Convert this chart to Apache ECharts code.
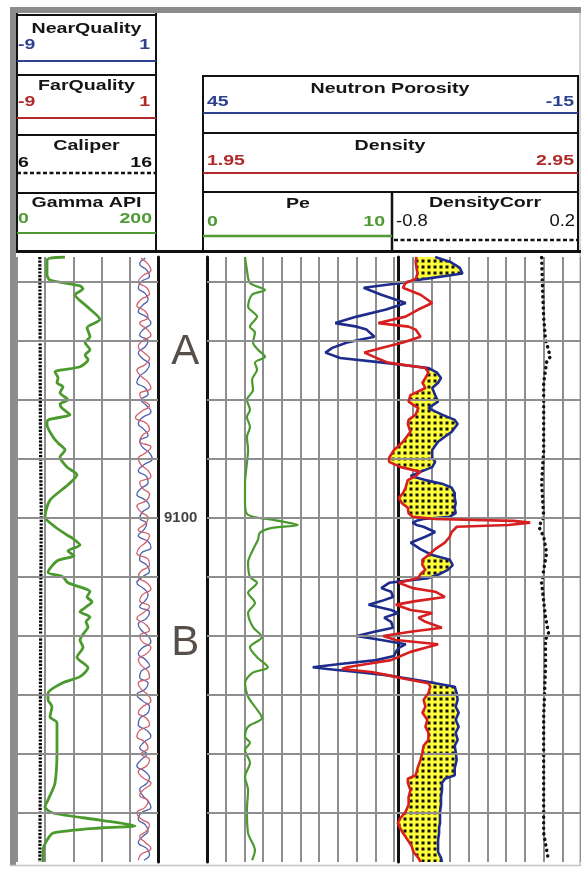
<!DOCTYPE html>
<html><head><meta charset="utf-8">
<script src="https://cdn.jsdelivr.net/npm/echarts@6/dist/echarts.min.js"></script>
<style>html,body{margin:0;padding:0;background:#fff}#c{width:581px;height:871px}</style>
</head><body><div id="c"></div>
<script>
// ---------------- DATA ----------------
const depthMin = 9055.8, depthMax = 9158.3;
const gridDepths = [9060, 9070, 9080, 9090, 9100, 9110, 9120, 9130, 9140, 9150];

const gammaDepth = [9055.8, 9056.3, 9058.8, 9059.7, 9060.7, 9061.2, 9062.2, 9064.2, 9066.4, 9067.8,
  9069.3, 9070.3, 9071.5, 9072.4, 9073.2, 9074.4, 9075.3, 9076.3, 9077.1, 9077.8,
  9078.8, 9080.0, 9080.7, 9081.4, 9082.5, 9083.4, 9084.2, 9086.3, 9087.3, 9088.5,
  9089.7, 9091.4, 9092.7, 9094.4, 9097.0, 9099.8, 9101.5, 9102.9, 9103.4, 9104.6,
  9105.6, 9106.4, 9107.3, 9109.2, 9110.0, 9111.0, 9112.5, 9113.4, 9114.2, 9115.1,
  9115.9, 9116.8, 9117.6, 9118.5, 9119.5, 9120.7, 9121.9, 9123.6, 9125.4, 9126.9,
  9128.0, 9129.7, 9130.8, 9132.0, 9133.7, 9134.7, 9139.3, 9144.9, 9147.8, 9149.0,
  9150.0, 9151.2, 9152.2, 9152.5, 9153.4, 9154.6, 9156.3, 9158.3];
const gammaAPI = [68, 42.6, 42.6, 46.8, 89.4, 93.6, 82.3, 99.3, 117.7, 99.3,
  103.5, 96.5, 103.5, 96.5, 100.7, 89.4, 53.9, 58.2, 56.7, 65.2,
  61.0, 72.3, 61.0, 63.8, 75.2, 44.0, 42.6, 51.1, 58.2, 68.1,
  61.0, 70.9, 85.1, 72.3, 46.8, 39.7, 53.9, 70.9, 78.0, 89.4,
  72.3, 80.9, 56.7, 44.0, 65.2, 72.3, 103.5, 99.3, 106.4, 97.9,
  89.4, 103.5, 97.9, 100.7, 95.0, 89.4, 93.6, 85.1, 100.7, 89.4,
  63.8, 44.0, 44.0, 49.6, 46.8, 56.7, 56.7, 53.9, 44.0, 39.7,
  51.1, 117.7, 167.4, 122.0, 51.1, 42.6, 36.9, 36.9];

const caliperDepth = [9055.8, 9070, 9085, 9100, 9115, 9130, 9145, 9158.3];
const caliper = [7.62, 7.64, 7.66, 7.72, 7.68, 7.66, 7.65, 7.62];

const qualityDepth = [9056,9057,9058,9059,9060,9061,9062,9063,9064,9065,
  9066,9067,9068,9069,9070,9071,9072,9073,9074,9075,
  9076,9077,9078,9079,9080,9081,9082,9083,9084,9085,
  9086,9087,9088,9089,9090,9091,9092,9093,9094,9095,
  9096,9097,9098,9099,9100,9101,9102,9103,9104,9105,
  9106,9107,9108,9109,9110,9111,9112,9113,9114,9115,
  9116,9117,9118,9119,9120,9121,9122,9123,9124,9125,
  9126,9127,9128,9129,9130,9131,9132,9133,9134,9135,
  9136,9137,9138,9139,9140,9141,9142,9143,9144,9145,
  9146,9147,9148,9149,9150,9151,9152,9153,9154,9155,
  9156,9157,9158];
const nearQuality = [0.1,-0.3,0.2,0.4,-0.2,-0.4,0.1,0.3,-0.1,-0.4,
  0.2,0.5,0.0,-0.3,0.3,0.1,-0.4,-0.1,0.4,0.2,
  -0.3,-0.5,0.1,0.3,-0.2,0.2,0.5,-0.1,-0.4,0.0,
  0.3,-0.3,-0.1,0.4,0.6,0.0,-0.4,0.2,0.3,-0.2,
  -0.5,0.1,0.4,-0.1,-0.3,0.2,0.0,-0.4,0.3,0.5,
  -0.2,-0.3,0.2,0.4,-0.1,-0.5,0.0,0.3,0.1,-0.3,
  0.4,0.2,-0.4,-0.2,0.3,0.5,-0.1,-0.4,0.1,0.4,
  -0.2,-0.3,0.3,0.1,-0.5,-0.1,0.4,0.3,-0.3,-0.4,
  0.2,0.5,0.0,-0.3,0.2,-0.2,-0.5,0.1,0.4,0.2,
  -0.3,-0.1,0.3,0.5,-0.2,-0.4,0.1,0.3,-0.1,-0.4,
  0.2,0.4,0.0];
const farQuality = [-0.2,0.3,0.5,-0.1,-0.4,0.2,0.4,-0.2,-0.5,0.1,
  0.3,-0.3,0.2,0.5,-0.1,-0.4,0.0,0.4,0.1,-0.5,
  -0.2,0.3,0.5,-0.3,-0.1,0.4,-0.2,-0.6,0.2,0.4,
  -0.1,-0.3,0.5,0.1,-0.4,-0.2,0.3,0.5,-0.3,-0.1,
  0.4,0.2,-0.5,-0.2,0.3,0.1,-0.4,0.4,0.2,-0.3,
  -0.5,0.3,0.4,-0.2,-0.4,0.2,0.5,-0.1,-0.3,0.4,
  0.0,-0.5,0.1,0.4,-0.3,-0.1,0.5,0.2,-0.4,-0.2,
  0.3,0.4,-0.4,-0.2,0.3,0.5,-0.1,-0.4,0.2,0.4,
  -0.3,-0.5,0.1,0.3,-0.2,0.4,0.2,-0.4,-0.1,0.5,
  0.0,-0.3,0.3,0.1,-0.5,-0.2,0.4,0.2,-0.3,0.1,
  0.5,-0.2,-0.4];

const peDepth = [9055.8, 9058.0, 9060.2, 9061.4, 9062.2, 9064.2, 9065.9, 9067.6, 9068.6, 9070.3,
  9071.5, 9072.7, 9073.7, 9074.9, 9076.6, 9078.3, 9080.0, 9081.7, 9082.9, 9084.6,
  9086.3, 9088.5, 9090.7, 9094.1, 9097.5, 9099.5, 9100.3, 9101.2, 9101.7, 9102.5,
  9103.7, 9105.4, 9107.6, 9110.0, 9111.0, 9112.7, 9114.4, 9116.1, 9118.5, 9120.2,
  9121.9, 9123.6, 9125.3, 9126.3, 9128.0, 9130.3, 9132.0, 9133.9, 9135.4, 9137.1,
  9138.1, 9139.3, 9141.5, 9143.9, 9146.1, 9149.5, 9153.4, 9156.3, 9158.0];
const pe = [1.99,2.09,2.25,3.04,2.36,2.15,2.62,2.25,2.51,2.41,
  2.67,3.04,2.51,2.62,2.36,2.41,2.09,2.25,2.09,2.25,
  2.09,2.15,2.09,1.99,1.99,2.15,3.40,4.76,3.40,2.77,
  2.67,2.41,2.15,2.25,2.62,2.15,2.51,2.15,2.41,2.88,
  2.25,2.62,3.19,2.36,1.99,2.15,2.51,2.88,2.15,1.99,
  2.25,1.99,2.25,1.99,2.15,2.09,2.15,2.51,2.36];

const ndDepth = [9055.8, 9056.6, 9057.6, 9058.6, 9059.5, 9060.2, 9061.0, 9062.2, 9063.6, 9064.7,
  9065.9, 9067.0, 9067.6, 9068.1, 9069.3, 9070.3, 9071.2, 9072.0, 9072.9, 9073.7,
  9074.6, 9075.4, 9076.3, 9077.1, 9078.0, 9079.2, 9080.3, 9081.4, 9082.5, 9083.4,
  9084.1, 9085.4, 9087.1, 9088.5, 9089.8, 9090.5, 9091.4, 9092.2, 9092.9, 9093.6,
  9094.2, 9094.9, 9095.8, 9096.6, 9097.5, 9098.3, 9099.2, 9099.8, 9100.2, 9100.5,
  9100.8, 9101.2, 9101.5, 9102.4, 9103.2, 9104.2, 9105.3, 9106.3, 9107.1, 9108.0,
  9108.8, 9109.5, 9110.2, 9111.0, 9111.9, 9112.5, 9113.4, 9114.1, 9114.7, 9115.6,
  9116.1, 9116.9, 9117.6, 9118.6, 9119.3, 9120.0, 9120.7, 9121.4, 9122.0, 9122.7,
  9123.4, 9124.1, 9124.7, 9125.3, 9125.6, 9126.1, 9126.6, 9127.3, 9128.0, 9128.6,
  9129.7, 9130.8, 9132.0, 9133.0, 9134.2, 9135.4, 9136.4, 9137.6, 9138.6, 9139.7,
  9141.0, 9142.4, 9143.6, 9144.2, 9144.9, 9146.1, 9147.3, 9148.6, 9149.8, 9150.8,
  9151.7, 9152.5, 9153.4, 9154.6, 9155.6, 9156.6, 9157.6, 9158.3];
const density = [2.510, 2.508, 2.510, 2.513, 2.508, 2.481, 2.474, 2.521, 2.552, 2.515,
  2.481, 2.408, 2.489, 2.508, 2.521, 2.474, 2.416, 2.371, 2.403, 2.434,
  2.534, 2.542, 2.534, 2.526, 2.534, 2.494, 2.489, 2.515, 2.508, 2.489,
  2.487, 2.494, 2.474, 2.450, 2.437, 2.437, 2.468, 2.521, 2.508, 2.487,
  2.484, 2.481, 2.474, 2.463, 2.471, 2.487, 2.489, 2.500, 2.560, 2.769,
  2.814, 2.756, 2.618, 2.604, 2.599, 2.586, 2.560, 2.542, 2.526, 2.526,
  2.534, 2.521, 2.515, 2.463, 2.500, 2.560, 2.586, 2.508, 2.455, 2.494,
  2.552, 2.515, 2.534, 2.578, 2.494, 2.421, 2.455, 2.568, 2.534, 2.494,
  2.468, 2.442, 2.382, 2.324, 2.311, 2.390, 2.429, 2.481, 2.542, 2.547,
  2.542, 2.529, 2.534, 2.526, 2.539, 2.534, 2.542, 2.542, 2.529, 2.526,
  2.521, 2.513, 2.508, 2.487, 2.487, 2.494, 2.489, 2.489, 2.481, 2.468,
  2.460, 2.466, 2.474, 2.487, 2.497, 2.502, 2.515, 2.521];
const neutron = [8.4, 6.05, 4.48, 4.01, 9.97, 13.9, 19.87, 17.04, 13.11, 16.26,
  20.97, 24.42, 20.97, 19.4, 18.14, 22.54, 24.9, 26.0, 23.64, 16.73,
  9.5, 8.09, 7.46, 7.93, 8.87, 8.4, 7.93, 9.5, 7.3, 5.26,
  4.79, 5.73, 7.93, 8.87, 8.87, 8.4, 8.87, 10.76, 12.33, 9.97,
  7.3, 5.73, 5.26, 5.26, 5.1, 5.26, 5.1, 6.05, 10.29, 11.39,
  12.02, 11.39, 10.29, 8.4, 9.97, 12.33, 10.76, 8.87, 6.05, 5.58,
  6.36, 7.62, 9.5, 15.78, 17.04, 15.47, 15.16, 17.04, 19.08, 15.47,
  14.37, 16.57, 15.47, 15.16, 18.14, 20.97, 17.04, 13.11, 14.21, 14.69,
  15.0, 17.83, 23.32, 28.04, 25.68, 20.97, 16.57, 12.33, 8.4, 5.26,
  4.95, 4.79, 5.1, 4.63, 5.1, 4.63, 5.1, 4.79, 5.26, 5.1,
  4.95, 5.26, 5.26, 6.83, 7.3, 7.3, 7.46, 7.46, 7.62, 7.62,
  7.62, 7.77, 7.77, 7.93, 7.93, 7.93, 7.46, 7.3];

const dcDepth = [9055.9, 9061.4, 9065.9, 9069.8, 9071.5, 9072.7, 9073.6, 9077.1, 9088.5, 9094.1,
  9099.8, 9101.5, 9103.2, 9105.9, 9111.0, 9116.8, 9119.5, 9120.7, 9125.3, 9133.7,
  9144.9, 9153.4, 9158.0];
const densityCorr = [-0.015, -0.010, -0.004, 0.006, 0.022, 0.032, 0.012, -0.004, -0.004, -0.015,
  -0.004, -0.030, -0.004, 0.012, -0.015, 0.006, 0.022, 0.006, 0.006, -0.004,
  -0.004, -0.004, 0.022];

const zoneLabels = ['A', 'B'];
const zoneDepths = [9071.9, 9121.2];
const depthTickLabels = ['9100'];
const depthTickValues = [9100];

// ---------------- RENDER ----------------
const C_NAVY = '#1e2c8c', C_RED = '#d81f1f', C_GREEN = '#4b9a2d', C_GRID = '#8e8e8e', K = '#111';
const HN = '#2d4190', HR = '#b02a2a', HG = '#4f9a35';

function pairs(vals, deps) { return deps.map((d, i) => [vals[i], d]); }
// neutron scale (45 .. -15) expressed on the density scale (1.95 .. 2.95) of the same track
function neutronOnDensityScale(n) { return 1.95 + (45 - n) / 60; }

const pc = document.createElement('canvas');
pc.width = 6; pc.height = 6;
const pctx = pc.getContext('2d');
pctx.fillStyle = '#ffff3a'; pctx.fillRect(0, 0, 6, 6);
pctx.fillStyle = '#111'; pctx.fillRect(1.5, 1.5, 3, 3);
const fillPattern = { image: pc, repeat: 'repeat' };

function renderFill(params, api) {
  const pts = ndDepth.map((d, i) => {
    const r = api.coord([density[i], d]);
    const b = api.coord([neutronOnDensityScale(neutron[i]), d]);
    return { y: r[1], r: r[0], b: b[0] };
  });
  const polys = [];
  let left = [], right = [];
  for (let i = 0; i < pts.length; i++) {
    const p = pts[i], inside = p.r < p.b;
    if (i > 0) {
      const q = pts[i - 1], was = q.r < q.b;
      if (inside !== was) {
        const d0 = q.b - q.r, d1 = p.b - p.r, t = d0 / (d0 - d1);
        const cx = q.r + t * (p.r - q.r), cy = q.y + t * (p.y - q.y);
        left.push([cx, cy]);
        if (was) { polys.push(left.concat(right.reverse())); left = []; right = []; }
      }
    }
    if (inside) { left.push([p.r, p.y]); right.push([p.b, p.y]); }
  }
  if (left.length) polys.push(left.concat(right.reverse()));
  return { type: 'group', children: polys.map(pp => ({
    type: 'polygon', shape: { points: pp }, style: { fill: fillPattern, stroke: null } })) };
}

const TOP = 257, HGT = 605;
const hidden = { show: false };
function yAx(grid, opts) {
  return Object.assign({ type: 'value', gridIndex: grid, inverse: true, min: depthMin, max: depthMax,
    axisLabel: hidden, axisTick: hidden, splitLine: hidden, axisLine: hidden }, opts || {});
}
function xAx(grid, min, max, opts) {
  return Object.assign({ type: 'value', gridIndex: grid, min, max, axisLabel: hidden, axisTick: hidden,
    splitLine: hidden, axisLine: hidden }, opts || {});
}
const thickAxis = { show: true, onZero: false, lineStyle: { color: K, width: 3 } };
const splitStyle = { show: true, lineStyle: { color: C_GRID, width: 2 } };
const markGrid = { silent: true, symbol: 'none', label: { show: false },
  lineStyle: { color: C_GRID, width: 2, type: 'solid' }, emphasis: { disabled: true },
  data: gridDepths.map(d => ({ yAxis: d })) };

// header graphics
function hl(x1, x2, y, c, w, dash) { return { type: 'line', silent: true, shape: { x1, y1: y, x2, y2: y }, style: { stroke: c, lineWidth: w, lineDash: dash || null } }; }
function vl(x, y1, y2, c, w) { return { type: 'line', silent: true, shape: { x1: x, y1, x2: x, y2 }, style: { stroke: c, lineWidth: w } }; }
function tx(x, y, text, o) {
  o = o || {};
  return { type: 'text', silent: true, x, y, scaleX: o.sx || 1.4,
    style: { text, x: 0, y: 0, textAlign: o.align || 'center', textVerticalAlign: 'middle', fill: o.color || '#151515',
      font: (o.weight || 'bold') + ' ' + (o.size || 14) + 'px "Liberation Sans", Arial, sans-serif' } };
}
const NUM = { size: 15, sx: 1.3 };
const graphics = [
  { type: 'rect', silent: true, shape: { x: 10, y: 7, width: 6, height: 858 }, style: { fill: '#8c8c8c' } },
  { type: 'rect', silent: true, shape: { x: 10, y: 7, width: 571, height: 6 }, style: { fill: '#8c8c8c' } },
  vl(580, 13, 866, '#c4c4c4', 1.5), hl(10, 581, 865.5, '#c4c4c4', 1.5),
  // track 1 header
  vl(17, 13, 252, K, 2), hl(16, 157, 15, K, 2), hl(16, 157, 75, K, 2), hl(16, 157, 135, K, 2), hl(16, 157, 193, K, 2),
  vl(156, 13, 252, K, 2),
  hl(17, 156, 61, HN, 2), hl(17, 156, 118, HR, 2), hl(17, 156, 173, K, 2.5, [4, 2.5]), hl(17, 156, 233, HG, 2),
  tx(86.5, 29, 'NearQuality'), tx(18, 44.5, '-9', Object.assign({ align: 'left', color: HN }, NUM)), tx(150, 44.5, '1', Object.assign({ align: 'right', color: HN }, NUM)),
  tx(86.5, 86, 'FarQuality'), tx(18, 102, '-9', Object.assign({ align: 'left', color: HR }, NUM)), tx(150, 102, '1', Object.assign({ align: 'right', color: HR }, NUM)),
  tx(86.5, 146, 'Caliper'), tx(18, 162.5, '6', Object.assign({ align: 'left', color: K }, NUM)), tx(152, 162.5, '16', Object.assign({ align: 'right', color: K }, NUM)),
  tx(86.5, 203, 'Gamma API'), tx(18, 219, '0', Object.assign({ align: 'left', color: HG }, NUM)), tx(152, 219, '200', Object.assign({ align: 'right', color: HG }, NUM)),
  // track 2 header
  hl(202, 579, 76, K, 2), hl(202, 579, 133, K, 2), hl(202, 579, 192, K, 2),
  vl(203, 76, 252, K, 2), vl(578, 76, 252, K, 2), vl(392, 192, 252, K, 2.5),
  hl(16, 581, 251.5, K, 3),
  hl(203, 578, 113, HN, 2), hl(203, 578, 173, HR, 2), hl(203, 392, 236, HG, 2.5), hl(394, 578, 240, K, 2.5, [4, 2.5]),
  tx(390, 89, 'Neutron Porosity'), tx(207, 102, '45', Object.assign({ align: 'left', color: HN }, NUM)), tx(574, 102, '-15', Object.assign({ align: 'right', color: HN }, NUM)),
  tx(390, 146, 'Density'), tx(207, 161, '1.95', Object.assign({ align: 'left', color: HR }, NUM)), tx(574, 161, '2.95', Object.assign({ align: 'right', color: HR }, NUM)),
  tx(298, 204, 'Pe'), tx(207, 222, '0', Object.assign({ align: 'left', color: HG }, NUM)), tx(385, 222, '10', Object.assign({ align: 'right', color: HG }, NUM)),
  tx(485, 203, 'DensityCorr'), tx(396, 222, '-0.8', { align: 'left', color: K, size: 16, weight: 'normal', sx: 1.15 }), tx(575, 222, '0.2', { align: 'right', color: K, size: 16, weight: 'normal', sx: 1.15 })
];

const chart = echarts.init(document.getElementById('c'), null, { renderer: 'canvas' });
chart.setOption({
  animation: false,
  backgroundColor: '#fff',
  grid: [
    { left: 17, top: TOP, width: 141, height: HGT },
    { left: 160, top: TOP, width: 46, height: HGT },
    { left: 207, top: TOP, width: 382, height: HGT },
    { left: 207, top: TOP, width: 191, height: HGT },
    { left: 398, top: TOP, width: 191, height: HGT }
  ],
  xAxis: [
    xAx(0, 0, 200, { interval: 40, splitLine: splitStyle }),
    xAx(0, 6, 16),
    xAx(0, -9, 1),
    xAx(1, 0, 1),
    xAx(2, 0, 20, { interval: 1, splitLine: splitStyle }),
    xAx(2, -15, 45, { inverse: true }),
    xAx(2, 1.95, 2.95),
    xAx(3, 0, 10),
    xAx(4, -0.8, 0.2)
  ],
  yAxis: [
    yAx(0, { position: 'right', axisLine: thickAxis }),
    yAx(1),
    yAx(2, { position: 'left', axisLine: thickAxis }),
    yAx(3, { position: 'right', axisLine: thickAxis }),
    yAx(4)
  ],
  graphic: { elements: graphics },
  series: [
    { type: 'line', xAxisIndex: 0, yAxisIndex: 0, data: [], z: 1, markLine: markGrid },
    { type: 'line', xAxisIndex: 4, yAxisIndex: 2, data: [], z: 1, markLine: markGrid },
    { name: 'Caliper', type: 'line', xAxisIndex: 1, yAxisIndex: 0, data: pairs(caliper, caliperDepth), showSymbol: false, z: 3,
      lineStyle: { color: '#000', width: 3.2, type: [2.2, 1.4] } },
    { name: 'NearQuality', type: 'line', xAxisIndex: 2, yAxisIndex: 0, data: pairs(nearQuality, qualityDepth), showSymbol: false, smooth: 0.5, z: 3,
      lineStyle: { color: '#4f62ad', width: 1.3 } },
    { name: 'FarQuality', type: 'line', xAxisIndex: 2, yAxisIndex: 0, data: pairs(farQuality, qualityDepth), showSymbol: false, smooth: 0.5, z: 3,
      lineStyle: { color: '#d0606a', width: 1.3 } },
    { name: 'Gamma API', type: 'line', xAxisIndex: 0, yAxisIndex: 0, data: pairs(gammaAPI, gammaDepth), showSymbol: false, smooth: 0.25, z: 4,
      lineStyle: { color: C_GREEN, width: 2.8 } },
    { type: 'scatter', xAxisIndex: 3, yAxisIndex: 1, symbolSize: 0, silent: true, z: 5,
      data: zoneLabels.map((t, i) => ({ value: [0.55, zoneDepths[i]], name: t }))
        .concat(depthTickLabels.map((t, i) => ({ value: [0.45, depthTickValues[i]], name: t,
          label: { fontSize: 15, fontWeight: 'bold', color: '#111' } }))),
      label: { show: true, position: 'inside', formatter: p => p.name, fontSize: 42, color: '#2e221c',
        fontFamily: '"Liberation Sans", Arial, sans-serif' } },
    { name: 'Pe', type: 'line', xAxisIndex: 7, yAxisIndex: 3, data: pairs(pe, peDepth), showSymbol: false, smooth: 0.3, z: 3,
      lineStyle: { color: C_GREEN, width: 2.2 } },
    { type: 'custom', xAxisIndex: 6, yAxisIndex: 2, data: [[2.5, 9100]], renderItem: renderFill, z: 2, silent: true },
    { name: 'Neutron Porosity', type: 'line', xAxisIndex: 5, yAxisIndex: 2, data: pairs(neutron, ndDepth), showSymbol: false, z: 4,
      lineStyle: { color: C_NAVY, width: 2.6 } },
    { name: 'Density', type: 'line', xAxisIndex: 6, yAxisIndex: 2, data: pairs(density, ndDepth), showSymbol: false, z: 5,
      lineStyle: { color: C_RED, width: 2.6 } },
    { name: 'DensityCorr', type: 'line', xAxisIndex: 8, yAxisIndex: 4, data: pairs(densityCorr, dcDepth), showSymbol: false, z: 3,
      lineStyle: { color: K, width: 3.5, type: [0.1, 5.5], cap: 'round' } }
  ]
});
</script></body></html>
